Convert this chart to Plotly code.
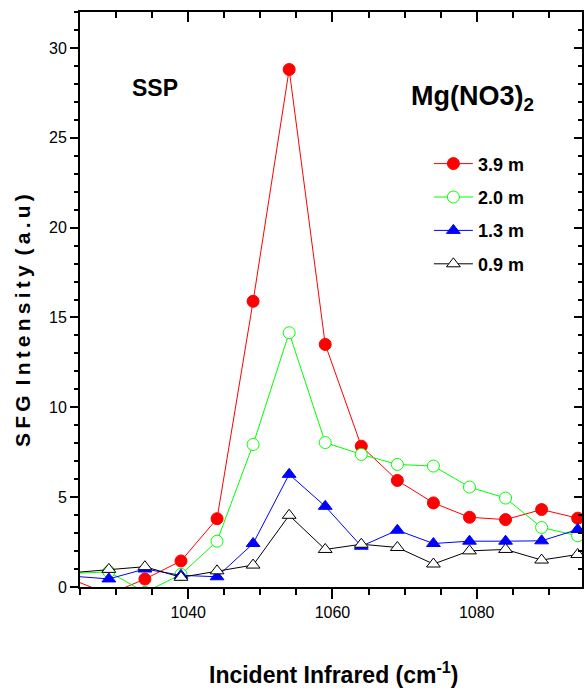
import plotly.graph_objects as go

wavenumber = [1024, 1029, 1034, 1039, 1044, 1049, 1054, 1059, 1064, 1069, 1074, 1079, 1084, 1089, 1094]
sfg_39m = [0.4, -0.4, 0.44, 1.45, 3.8, 15.9, 28.8, 13.5, 7.84, 5.93, 4.68, 3.88, 3.75, 4.31, 3.83]
sfg_20m = [0.75, 0.85, -0.3, 0.7, 2.55, 7.93, 14.15, 8.04, 7.38, 6.82, 6.73, 5.56, 4.95, 3.31, 2.85]
sfg_13m = [0.6, 0.45, 1.0, 0.65, 0.57, 2.42, 6.27, 4.49, 2.27, 3.16, 2.42, 2.55, 2.55, 2.57, 3.2]
sfg_09m = [0.8, 0.98, 1.13, 0.54, 0.9, 1.22, 3.99, 2.09, 2.38, 2.2, 1.28, 2.01, 2.09, 1.5, 1.81]
series_names = ["3.9 m", "2.0 m", "1.3 m", "0.9 m"]
x_ticks = [1040, 1060, 1080]
y_ticks = [0, 5, 10, 15, 20, 25, 30]

FONT = "Liberation Sans, Arial, Helvetica, sans-serif"

styles = [
    dict(color="#ff0000", symbol="circle", fill="#ff0000"),
    dict(color="#00ff00", symbol="circle", fill="#ffffff"),
    dict(color="#0000ff", symbol="triangle-up", fill="#0000ff"),
    dict(color="#000000", symbol="triangle-up", fill="#ffffff"),
]

fig = go.Figure()
for i, (name, vals) in enumerate(zip(series_names, [sfg_39m, sfg_20m, sfg_13m, sfg_09m])):
    st = styles[i]
    fig.add_trace(go.Scatter(
        x=wavenumber, y=vals, name=name, mode="lines+markers",
        legendgroup=f"g{i}",
        line=dict(color=st["color"], width=1),
        marker=dict(symbol=st["symbol"], size=12, color=st["fill"],
                    line=dict(color=st["color"], width=1)),
    ))

# empty trace so that the mirrored (top/right) axes get drawn
fig.add_trace(go.Scatter(x=[], y=[], xaxis="x2", yaxis="y2", showlegend=False,
                         hoverinfo="skip"))

axis_common = dict(showgrid=False, zeroline=False, showline=True, linecolor="black", linewidth=2)

fig.update_layout(
    width=585, height=694,
    margin=dict(l=80, r=3, t=12, b=107),
    plot_bgcolor="white", paper_bgcolor="white",
    showlegend=True,
    legend=dict(x=0.695, y=0.768, xanchor="left", yanchor="top", itemwidth=39,
                bgcolor="rgba(0,0,0,0)", tracegroupgap=7,
                font=dict(family=FONT, size=18, color="black", weight="bold")),
    xaxis=dict(range=[1025, 1094.6], tickmode="array", tickvals=x_ticks,
               ticks="outside", ticklen=10, tickwidth=2, tickcolor="black",
               minor=dict(dtick=5, tick0=1025, ticks="outside", ticklen=6, tickwidth=2, tickcolor="black"),
               tickfont=dict(family=FONT, size=16, color="black"), **axis_common),
    yaxis=dict(range=[0, 32], tickmode="array", tickvals=y_ticks,
               ticks="outside", ticklen=8, tickwidth=2, tickcolor="black",
               minor=dict(dtick=1, tick0=0, ticks="outside", ticklen=4, tickwidth=2, tickcolor="black"),
               tickfont=dict(family=FONT, size=16, color="black"), **axis_common),
    xaxis2=dict(range=[1025, 1094.6], overlaying="x", side="top", tickmode="array",
                tickvals=x_ticks, showticklabels=False,
                ticks="inside", ticklen=10, tickwidth=2, tickcolor="black",
                minor=dict(dtick=5, tick0=1025, ticks="inside", ticklen=6, tickwidth=2, tickcolor="black"),
                **axis_common),
    yaxis2=dict(range=[0, 32], overlaying="y", side="right", tickmode="array",
                tickvals=y_ticks, showticklabels=False,
                ticks="inside", ticklen=8, tickwidth=2, tickcolor="black",
                minor=dict(dtick=1, tick0=0, ticks="inside", ticklen=4, tickwidth=2, tickcolor="black"),
                **axis_common),
)

fig.add_annotation(text="SSP", xref="paper", yref="paper", x=0.149, y=0.868,
                   showarrow=False, xanchor="center", yanchor="middle",
                   font=dict(family=FONT, size=23, color="black", weight="bold"))
fig.add_annotation(text="Mg(NO3)<sub>2</sub>", xref="paper", yref="paper", x=0.655, y=0.85,
                   showarrow=False, xanchor="left", yanchor="middle",
                   font=dict(family=FONT, size=27, color="black", weight="bold"))
fig.add_annotation(text="S\u2009F\u2009G\u2009 I\u2009n\u2009t\u2009e\u2009n\u2009s\u2009i\u2009t\u2009y\u2009 (\u2009a\u2009.\u2009u\u2009)",
                   xref="paper", yref="paper", x=-0.1155, y=0.4626, textangle=-90,
                   showarrow=False, xanchor="center", yanchor="middle",
                   font=dict(family=FONT, size=21, color="black", weight="bold"))
fig.add_annotation(text="Incident Infrared (cm<sup>-1</sup>)", xref="paper", yref="paper",
                   x=0.504, y=-0.15, showarrow=False, xanchor="center", yanchor="middle",
                   font=dict(family=FONT, size=23, color="black", weight="bold"))

fig.write_html("out.html", config={"displayModeBar": False},
               post_script="document.body.style.margin='0';")
